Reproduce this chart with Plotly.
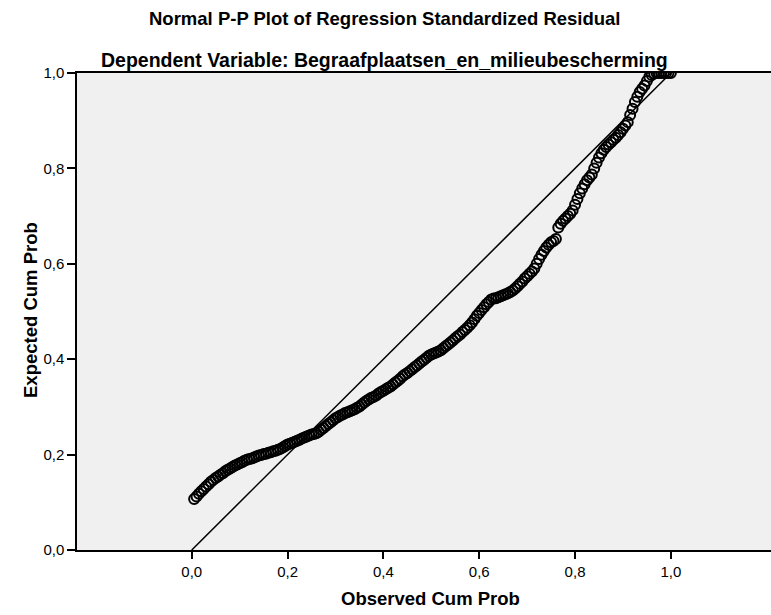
import plotly.graph_objects as go

observed_cum_prob = [
    0.005, 0.010, 0.015, 0.020, 0.025, 0.030, 0.035, 0.040, 0.045, 0.050,
    0.055, 0.060, 0.065, 0.070, 0.075, 0.080, 0.085, 0.090, 0.095, 0.100,
    0.105, 0.110, 0.115, 0.120, 0.125, 0.130, 0.135, 0.140, 0.145, 0.150,
    0.155, 0.160, 0.165, 0.170, 0.175, 0.180, 0.185, 0.190, 0.195, 0.200,
    0.205, 0.210, 0.215, 0.220, 0.225, 0.230, 0.235, 0.240, 0.245, 0.250,
    0.255, 0.260, 0.265, 0.270, 0.275, 0.280, 0.285, 0.290, 0.295, 0.300,
    0.305, 0.310, 0.315, 0.320, 0.325, 0.330, 0.335, 0.340, 0.345, 0.350,
    0.355, 0.360, 0.365, 0.370, 0.375, 0.380, 0.385, 0.390, 0.395, 0.400,
    0.405, 0.410, 0.415, 0.420, 0.425, 0.430, 0.435, 0.440, 0.445, 0.450,
    0.455, 0.460, 0.465, 0.470, 0.475, 0.480, 0.485, 0.490, 0.495, 0.500,
    0.505, 0.510, 0.515, 0.520, 0.525, 0.530, 0.535, 0.540, 0.545, 0.550,
    0.555, 0.560, 0.565, 0.570, 0.575, 0.580, 0.585, 0.590, 0.595, 0.600,
    0.605, 0.610, 0.615, 0.620, 0.625, 0.630, 0.635, 0.640, 0.645, 0.650,
    0.655, 0.660, 0.665, 0.670, 0.675, 0.680, 0.685, 0.690, 0.695, 0.700,
    0.705, 0.710, 0.715, 0.720, 0.725, 0.730, 0.735, 0.740, 0.745, 0.750,
    0.755, 0.760, 0.765, 0.770, 0.775, 0.780, 0.785, 0.790, 0.795, 0.800,
    0.805, 0.810, 0.815, 0.820, 0.825, 0.830, 0.835, 0.840, 0.845, 0.850,
    0.855, 0.860, 0.865, 0.870, 0.875, 0.880, 0.885, 0.890, 0.895, 0.900,
    0.905, 0.910, 0.915, 0.920, 0.925, 0.930, 0.935, 0.940, 0.945, 0.950,
    0.955, 0.960, 0.965, 0.970, 0.975, 0.980, 0.985, 0.990, 0.995, 1.000,
]
expected_cum_prob = [
    0.107, 0.112, 0.118, 0.123, 0.128, 0.133, 0.138, 0.143, 0.147, 0.151,
    0.154, 0.158, 0.161, 0.165, 0.168, 0.171, 0.174, 0.177, 0.179, 0.182,
    0.184, 0.187, 0.189, 0.191, 0.192, 0.194, 0.196, 0.198, 0.199, 0.201,
    0.202, 0.204, 0.205, 0.207, 0.208, 0.210, 0.212, 0.215, 0.218, 0.221,
    0.223, 0.225, 0.227, 0.229, 0.231, 0.234, 0.236, 0.238, 0.240, 0.242,
    0.243, 0.245, 0.248, 0.252, 0.256, 0.260, 0.264, 0.268, 0.272, 0.276,
    0.279, 0.282, 0.284, 0.287, 0.289, 0.291, 0.293, 0.295, 0.298, 0.301,
    0.305, 0.309, 0.313, 0.316, 0.319, 0.321, 0.324, 0.328, 0.331, 0.334,
    0.337, 0.340, 0.343, 0.347, 0.351, 0.355, 0.359, 0.364, 0.368, 0.371,
    0.375, 0.379, 0.383, 0.387, 0.391, 0.395, 0.399, 0.403, 0.407, 0.410,
    0.412, 0.414, 0.416, 0.419, 0.423, 0.427, 0.431, 0.435, 0.439, 0.444,
    0.448, 0.452, 0.457, 0.461, 0.466, 0.471, 0.477, 0.484, 0.491, 0.497,
    0.503, 0.509, 0.515, 0.520, 0.525, 0.527, 0.528, 0.530, 0.532, 0.534,
    0.536, 0.538, 0.541, 0.544, 0.548, 0.553, 0.558, 0.563, 0.569, 0.574,
    0.579, 0.584, 0.590, 0.600, 0.610, 0.619, 0.627, 0.634, 0.640, 0.645,
    0.648, 0.652, 0.676, 0.684, 0.690, 0.695, 0.700, 0.705, 0.712, 0.724,
    0.736, 0.748, 0.758, 0.767, 0.775, 0.781, 0.787, 0.800, 0.812, 0.823,
    0.832, 0.839, 0.845, 0.850, 0.855, 0.860, 0.864, 0.870, 0.876, 0.883,
    0.890, 0.897, 0.912, 0.925, 0.939, 0.950, 0.960, 0.967, 0.974, 0.983,
    0.992, 0.996, 0.999, 1.000, 1.000, 1.000, 1.000, 1.000, 1.000, 1.000,
]
ref_line = [0.0, 1.0]
tick_vals = [0.0, 0.2, 0.4, 0.6, 0.8, 1.0]
tick_text = ["0,0", "0,2", "0,4", "0,6", "0,8", "1,0"]

FONT = "Liberation Sans, Arial, sans-serif"

fig = go.Figure()
fig.add_trace(go.Scatter(
    x=ref_line, y=ref_line, mode="lines",
    line=dict(color="black", width=1.5), hoverinfo="skip", showlegend=False,
))
fig.add_trace(go.Scatter(
    x=observed_cum_prob, y=expected_cum_prob, mode="markers",
    marker=dict(symbol="circle-open", size=10, color="black",
                line=dict(color="black", width=2.0)),
    showlegend=False,
))

fig.update_layout(
    width=771, height=615,
    margin=dict(l=77, r=0, t=73, b=65),
    paper_bgcolor="white", plot_bgcolor="#F0F0F0",
    font=dict(family=FONT, size=15, color="black"),
    xaxis=dict(
        range=[-0.2395, 1.209], tickvals=tick_vals, ticktext=tick_text,
        showgrid=False, zeroline=False, showline=True, linecolor="black",
        linewidth=1.5, mirror=True, ticks="outside", ticklen=7, tickwidth=1.5,
        tickcolor="black", tickfont=dict(size=15, family=FONT),
    ),
    yaxis=dict(
        range=[0, 1], tickvals=tick_vals, ticktext=tick_text,
        showgrid=False, zeroline=False, showline=True, linecolor="black",
        linewidth=1.5, ticks="outside", ticklen=8, tickwidth=1.5,
        tickcolor="black", tickfont=dict(size=15, family=FONT),
    ),
    annotations=[
        dict(text="<b>Normal P-P Plot of Regression Standardized Residual</b>",
             xref="paper", yref="paper", x=(385 - 77) / 694, y=1 + (73 - 18) / 477,
             xanchor="center", yanchor="middle", showarrow=False,
             font=dict(size=18.5, family=FONT)),
        dict(text="<b>Dependent Variable: Begraafplaatsen_en_milieubescherming</b>",
             xref="paper", yref="paper", x=(384 - 77) / 694, y=1 + (73 - 60) / 477,
             xanchor="center", yanchor="middle", showarrow=False,
             font=dict(size=19.5, family=FONT)),
        dict(text="<b>Observed Cum Prob</b>",
             xref="paper", yref="paper", x=(430 - 77) / 694, y=-(598 - 550) / 477,
             xanchor="center", yanchor="middle", showarrow=False,
             font=dict(size=18.5, family=FONT)),
        dict(text="<b>Expected Cum Prob</b>", textangle=-90,
             xref="paper", yref="paper", x=(30 - 77) / 694, y=(550 - 310) / 477,
             xanchor="center", yanchor="middle", showarrow=False,
             font=dict(size=18.5, family=FONT)),
    ],
)

fig.write_html("out.html")
